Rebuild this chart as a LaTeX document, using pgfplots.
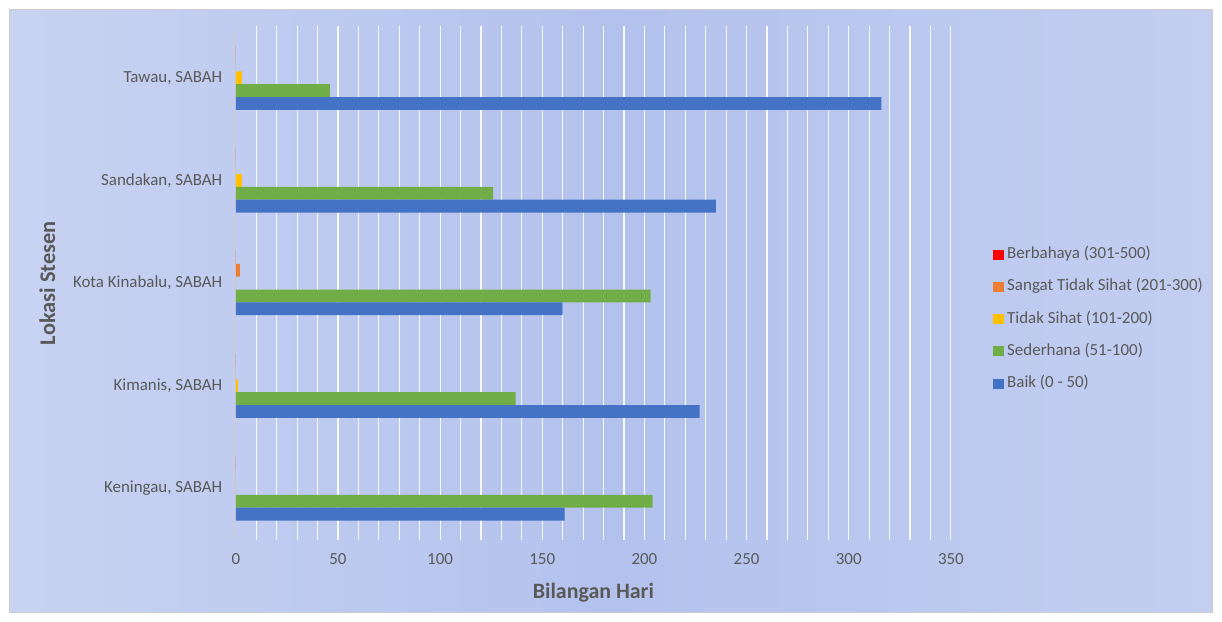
\documentclass[border=0pt]{standalone}
\usepackage{fontspec}
\setmainfont{Carlito}
\usepackage{pgfplots}
\pgfplotsset{compat=1.18}
\definecolor{txt}{HTML}{595959}
\definecolor{baik}{HTML}{4472C4}
\definecolor{sed}{HTML}{70AD47}
\definecolor{tidak}{HTML}{FFC000}
\definecolor{sangat}{HTML}{ED7D31}
\definecolor{bahaya}{HTML}{FF0000}
\definecolor{bgA}{RGB}{219,226,246}
\definecolor{bgB}{RGB}{205,214,243}
\definecolor{bgM}{RGB}{179,194,237}
\definecolor{bgC}{RGB}{197,208,241}
\definecolor{bgD}{RGB}{219,226,247}
\pgfdeclarehorizontalshading{bgshade}{100bp}{color(0bp)=(bgA); color(20bp)=(bgB); color(50bp)=(bgM); color(78bp)=(bgC); color(100bp)=(bgD)}
\begin{document}
\begin{tikzpicture}
\fill[white] (0bp,0bp) rectangle (1222bp,622bp);
\shade[shading=bgshade] (9.5bp,9.5bp) rectangle (1212.5bp,612.5bp);
\draw[black!20, line width=0.8bp] (9.5bp,9.5bp) rectangle (1212.5bp,612.5bp);
\begin{axis}[
  at={(235.8bp,82.2bp)}, anchor=south west,
  scale only axis, width=715.1bp, height=513.3bp,
  xbar, bar width=0.125,
  xmin=0, xmax=350, ymin=-0.5, ymax=4.5,
  xtick={0,50,...,350}, minor x tick num=4,
  ytick={0,...,4},
  yticklabels={{Keningau, SABAH},{Kimanis, SABAH},{Kota Kinabalu, SABAH},{Sandakan, SABAH},{Tawau, SABAH}},
  xmajorgrids, xminorgrids,
  major grid style={white, line width=1.1bp, opacity=0.9},
  minor grid style={white, line width=1.1bp, opacity=0.9},
  extra x ticks={0}, extra x tick labels={},
  extra x tick style={grid=major, major grid style={black!22, line width=0.8bp}},
  major tick length=0pt, minor tick length=0pt,
  axis line style={draw=none},
  tick label style={font=\fontsize{17}{19}\selectfont, text=txt},
  /pgf/number format/assume math mode=true,
  xticklabel style={yshift=-10bp},
  yticklabel style={xshift=-10bp},
  xlabel={Bilangan Hari},
  xlabel style={font=\bfseries\fontsize{22}{24}\selectfont, text=txt, at={(axis description cs:0.5,-0.1153)}, anchor=base},
  ylabel={Lokasi Stesen},
  ylabel style={font=\bfseries\fontsize{22.5}{24}\selectfont, text=txt, at={(axis description cs:-0.2528,0.5)}, anchor=base},
  legend image code/.code={\fill[#1] (0bp,-5bp) rectangle (11bp,5bp); \path (14bp,0bp);},
  legend cell align=left,
  legend style={at={(axis description cs:1.0589,0.5736)}, anchor=north west, draw=none, fill=none, inner sep=0pt,
    font=\fontsize{17}{19}\selectfont, text=txt, row sep=14.25bp,
    nodes={inner xsep=0pt, inner ysep=2bp, text height=11bp, text depth=3bp}},
  legend entries={Berbahaya (301-500),Sangat Tidak Sihat (201-300),Tidak Sihat (101-200),Sederhana (51-100),Baik (0 - 50)},
]
\addplot[fill=bahaya, draw=none, bar shift=0.25] coordinates {(0,0) (0,1) (0,2) (0,3) (0,4)};
\addplot[fill=sangat, draw=none, bar shift=0.125] coordinates {(0,0) (0,1) (2,2) (0,3) (0,4)};
\addplot[fill=tidak, draw=none, bar shift=0] coordinates {(0,0) (1,1) (0,2) (3,3) (3,4)};
\addplot[fill=sed, draw=none, bar shift=-0.125] coordinates {(204,0) (137,1) (203,2) (126,3) (46,4)};
\addplot[fill=baik, draw=none, bar shift=-0.25] coordinates {(161,0) (227,1) (160,2) (235,3) (316,4)};
\end{axis}
\end{tikzpicture}
\end{document}
